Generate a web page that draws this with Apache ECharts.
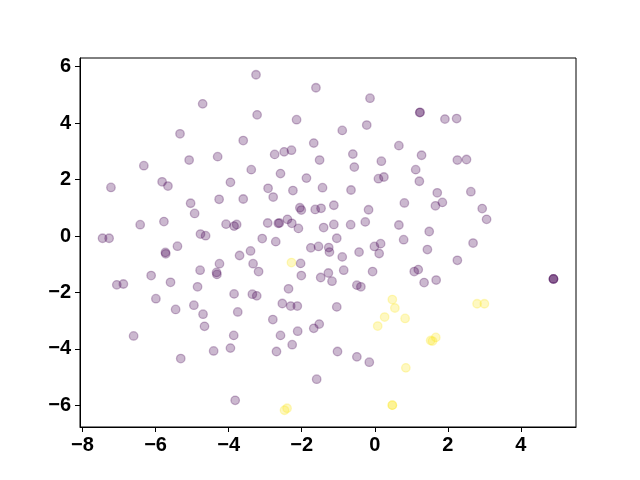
<!DOCTYPE html>
<html>
<head>
<meta charset="utf-8">
<script src="https://cdn.jsdelivr.net/npm/echarts@6/dist/echarts.min.js"></script>
<style>
  html, body { margin: 0; padding: 0; background: #fff; }
  #chart { width: 640px; height: 480px; }
</style>
</head>
<body>
<div id="chart"></div>
<script>
// class 0 points (dark purple)
const purpleX = [
  -4.71, -5.33, -3.60, -6.32, -5.08, -4.30, -5.82, -3.95,
  -3.25, -1.61, -0.13, -3.22, -2.14, -0.89, -0.22, -1.67, 0.66, -2.74, -2.48, -2.28,
  -0.60, -1.51, 0.18, -3.38, -2.58, -0.56, -1.87, 0.10, 0.25,
  1.23, 1.24, 1.92, 2.24, 1.28, 2.26, 2.51, 1.12, 1.22,
  -7.22, -5.66, -5.04, -4.26, -3.60, -4.93, -6.42, -5.77, -4.07, -3.85, -3.78, -4.77, -4.63,
  -7.45, -7.27, -5.73, -5.72, -5.40, -3.70, -4.25, -4.78, -4.33, -4.32, -6.12, -5.59,
  -7.06, -6.88, -4.85, -3.85, -5.99, -4.95,
  -2.92, -2.78, -2.24, -1.43, -0.65, -2.05, -2.01, -1.63, -1.47, -1.12, -0.17, 0.81,
  -2.93, -2.64, -2.61, -2.39, -2.27, -2.09, -1.40, -1.12, -0.66, -0.26, 0.66,
  -3.08, -2.71, -1.04, 0.79, -3.40, -1.75, -1.54, -1.26, -1.24, -0.89, -0.43, -0.01, 0.16, 0.12,
  -3.33, -3.18, -2.03, -2.01, -1.48, -1.27, -1.17, -0.85, -0.06, -2.36, -0.49, -0.38, -3.35, -3.23,
  1.71, 2.63, 1.66, 1.85, 2.94, 3.06, 1.49, 2.69, 1.44, 2.26, 1.08, 1.19, 1.35, 1.68,
  4.89, 4.89, 4.89,
  -5.45, -4.70, -3.75, -4.66, -6.60, -3.86, -4.41, -3.95, -5.31, -3.82,
  -2.53, -2.30, -2.12, -1.04, -2.79, -1.67, -1.52, -2.58, -2.11, -2.26, -2.69, -1.02, -0.49, -0.15, -1.59
];
const purpleY = [
  4.68, 3.62, 3.38, 2.49, 2.69, 2.81, 1.92, 1.90,
  5.71, 5.25, 4.88, 4.29, 4.12, 3.74, 3.93, 3.29, 3.20, 2.89, 2.98, 3.04,
  2.90, 2.69, 2.65, 2.35, 2.21, 2.44, 2.05, 2.03, 2.09,
  4.37, 4.38, 4.14, 4.16, 2.86, 2.69, 2.71, 2.35, 1.94,
  1.72, 1.77, 1.16, 1.30, 1.31, 0.80, 0.40, 0.51, 0.42, 0.35, 0.41, 0.07, 0.01,
  -0.08, -0.08, -0.58, -0.63, -0.36, -0.69, -0.98, -1.21, -1.29, -1.36, -1.40, -1.64,
  -1.73, -1.70, -1.80, -2.05, -2.22, -2.45,
  1.69, 1.38, 1.61, 1.71, 1.63, 1.00, 0.92, 0.94, 0.98, 1.09, 0.93, 1.17,
  0.46, 0.45, 0.46, 0.59, 0.45, 0.27, 0.30, 0.41, 0.40, 0.50, 0.39,
  -0.09, -0.20, -0.08, -0.13, -0.53, -0.42, -0.37, -0.41, -0.57, -0.74, -0.57, -0.37, -0.27, -0.62,
  -0.98, -1.26, -0.97, -1.40, -1.47, -1.31, -1.60, -1.21, -1.26, -1.87, -1.74, -1.80, -2.06, -2.12,
  1.53, 1.57, 1.07, 1.19, 0.97, 0.59, 0.16, -0.25, -0.48, -0.86, -1.26, -1.19, -1.65, -1.56,
  -1.52, -1.52, -1.52,
  -2.60, -2.77, -2.69, -3.20, -3.54, -3.52, -4.07, -3.97, -4.34, -5.82,
  -2.39, -2.48, -2.48, -2.51, -2.96, -3.27, -3.12, -3.52, -3.37, -3.85, -4.09, -4.09, -4.28, -4.47, -5.07
];
// class 1 points (yellow)
const yellowX = [-2.28, 0.48, 0.55, 0.27, 0.08, 0.83, 0.85, 2.80, 3.00, 1.53, 1.58, 1.67, -2.47, -2.40, 0.48, 0.48];
const yellowY = [-0.94, -2.25, -2.55, -2.87, -3.19, -2.92, -4.67, -2.40, -2.40, -3.70, -3.72, -3.59, -6.17, -6.10, -5.99, -5.99];

const xTicks = [-8, -6, -4, -2, 0, 2, 4];
const yTicks = [-6, -4, -2, 0, 2, 4, 6];

// matplotlib style 5% margins around the data
function padRange(vals) {
  const lo = Math.min(...vals), hi = Math.max(...vals);
  const pad = (hi - lo) * 0.05;
  return [lo - pad, hi + pad];
}
const allX = purpleX.concat(yellowX);
const allY = purpleY.concat(yellowY);
const xr = padRange(allX);
const yr = padRange(allY);

const toPairs = (xs, ys) => xs.map((x, i) => [x, ys[i]]);
const minus = v => String(v).replace('-', '\u2212');

const chart = echarts.init(document.getElementById('chart'), null, { renderer: 'canvas' });

const labelStyle = {
  fontFamily: 'Liberation Sans, Arial, sans-serif',
  fontWeight: 'bold',
  fontSize: 20,
  color: '#000',
  formatter: minus
};

chart.setOption({
  animation: false,
  backgroundColor: '#fff',
  grid: {
    left: 80, right: 64, top: 58, bottom: 53,
    show: true, borderColor: '#000', borderWidth: 1, backgroundColor: 'transparent'
  },
  xAxis: {
    type: 'value',
    min: xr[0], max: xr[1],
    splitLine: { show: false },
    axisLine: { onZero: false, lineStyle: { color: '#000', width: 1 } },
    axisTick: { customValues: xTicks, length: 5, lineStyle: { color: '#000' } },
    axisLabel: Object.assign({ customValues: xTicks, margin: 8 }, labelStyle)
  },
  yAxis: {
    type: 'value',
    min: yr[0], max: yr[1],
    splitLine: { show: false },
    axisLine: { onZero: false, lineStyle: { color: '#000', width: 1 } },
    axisTick: { customValues: yTicks, length: 5, lineStyle: { color: '#000' } },
    axisLabel: Object.assign({ customValues: yTicks, margin: 9 }, labelStyle)
  },
  series: [
    {
      type: 'scatter',
      data: toPairs(purpleX, purpleY),
      symbolSize: 8.5,
      itemStyle: { color: 'rgba(68,1,84,0.35)', borderColor: 'rgba(68,1,84,0.35)', borderWidth: 1.3 }
    },
    {
      type: 'scatter',
      data: toPairs(yellowX, yellowY),
      symbolSize: 8.5,
      itemStyle: { color: 'rgba(253,231,37,0.35)', borderColor: 'rgba(253,231,37,0.35)', borderWidth: 1.3 }
    }
  ]
});
</script>
</body>
</html>
